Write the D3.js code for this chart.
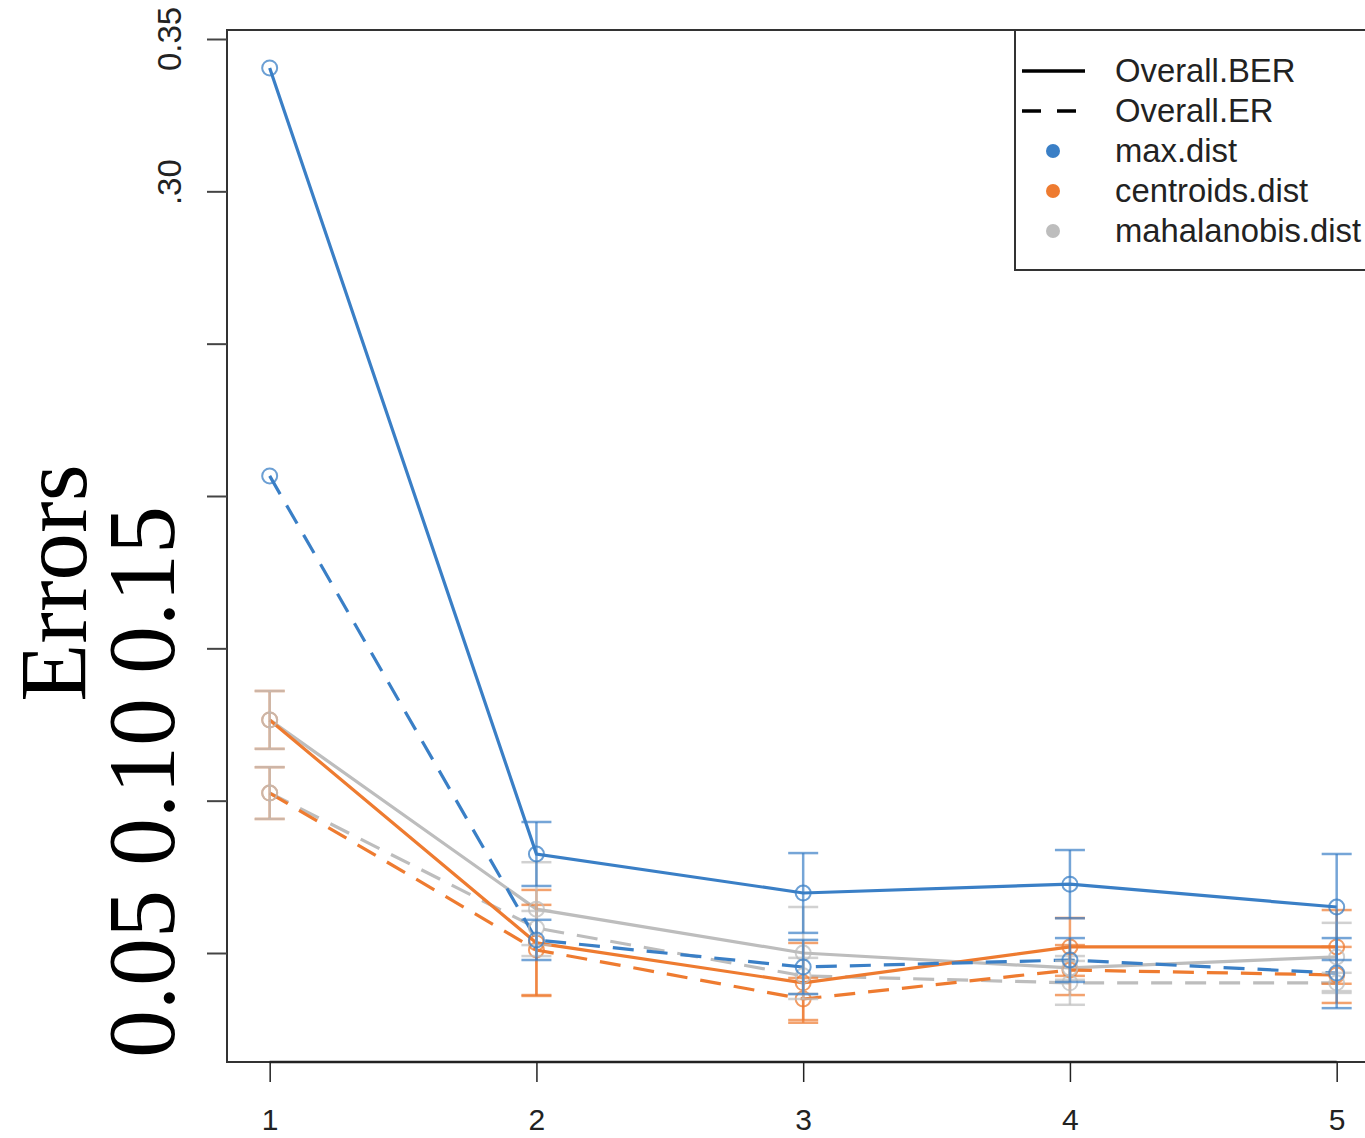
<!DOCTYPE html>
<html>
<head>
<meta charset="utf-8">
<script src="https://cdn.jsdelivr.net/npm/d3@7"></script>
<style>
  html, body { margin: 0; padding: 0; background: #ffffff; }
  svg { display: block; }
</style>
</head>
<body>
<svg id="chart" width="1365" height="1138"></svg>
<script>
// ---------------- data ----------------
const components = [1, 2, 3, 4, 5];
const yTickValues = [0.05, 0.10, 0.15, 0.20, 0.25, 0.30, 0.35];
const bigTickText = "0.05 0.10 0.15";
const yTitle = "Errors";

const maxBER     = [0.3405, 0.0825, 0.0697, 0.0726, 0.0651];
const maxBERsd   = [0.0000, 0.0105, 0.0131, 0.0112, 0.0174];
const maxER      = [0.2066, 0.0543, 0.0454, 0.0477, 0.0434];
const maxERsd    = [0.0000, 0.0066, 0.0089, 0.0072, 0.0115];
const centBER    = [0.1265, 0.0533, 0.0402, 0.0520, 0.0520];
const centBERsd  = [0.0095, 0.0174, 0.0131, 0.0095, 0.0121];
const centER     = [0.1025, 0.0510, 0.0349, 0.0444, 0.0428];
const centERsd   = [0.0085, 0.0148, 0.0069, 0.0082, 0.0092];
const mahaBER    = [0.1265, 0.0644, 0.0500, 0.0451, 0.0487];
const mahaBERsd  = [0.0095, 0.0154, 0.0151, 0.0039, 0.0112];
const mahaER     = [0.1025, 0.0582, 0.0425, 0.0402, 0.0402];
const mahaERsd   = [0.0085, 0.0056, 0.0059, 0.0072, 0.0033];

const distances = ["max.dist", "centroids.dist", "mahalanobis.dist"];
const measures = ["Overall.BER", "Overall.ER"];
const distColors = ["#3a7fc6", "#ee7b30", "#bdbdbd"];

const series = [
  {dist: 2, measure: 0, values: mahaBER, sd: mahaBERsd},
  {dist: 2, measure: 1, values: mahaER,  sd: mahaERsd},
  {dist: 1, measure: 0, values: centBER, sd: centBERsd},
  {dist: 1, measure: 1, values: centER,  sd: centERsd},
  {dist: 0, measure: 0, values: maxBER,  sd: maxBERsd},
  {dist: 0, measure: 1, values: maxER,   sd: maxERsd}
];
// order for error bars / points: orange, gray, blue
const markOrder = [2, 3, 0, 1, 4, 5];

// ---------------- layout ----------------
const svg = d3.select("#chart");
const frame = {left: 227, top: 30, bottom: 1062};
const x = d3.scaleLinear().domain([0.84, 5.16]).range([frame.left, frame.left + 4.32 * 266.75]);
const y = d3.scaleLinear().domain([0.05, 0.35]).range([953, 39]);
const frameRight = x(5.16);

svg.append("rect")
  .attr("x", frame.left).attr("y", frame.top)
  .attr("width", frameRight - frame.left).attr("height", frame.bottom - frame.top)
  .attr("fill", "none").attr("stroke", "#333").attr("stroke-width", 2);

// x axis
const xAxis = d3.axisBottom(x).tickValues(components).tickFormat(d3.format("d"))
  .tickSize(20).tickSizeOuter(0);
const gx = svg.append("g").attr("transform", `translate(0,${frame.bottom})`).call(xAxis);
gx.select(".domain").attr("d", `M${x(1)},0H${x(5)}`).attr("stroke", "#222").attr("stroke-width", 2.5);
gx.selectAll(".tick line").attr("stroke", "#222").attr("stroke-width", 1.5);
gx.selectAll(".tick text")
  .attr("y", 57).attr("dy", "0.35em")
  .attr("font-family", "Liberation Sans, Arial, sans-serif")
  .attr("font-size", 30).attr("fill", "#222");

// y axis ticks
const yAxis = d3.axisLeft(y).tickValues(yTickValues).tickFormat("").tickSize(20).tickSizeOuter(0);
const gy = svg.append("g").attr("transform", `translate(${frame.left},0)`).call(yAxis);
gy.select(".domain").remove();
gy.selectAll(".tick line").attr("stroke", "#444").attr("stroke-width", 2);

const smallFont = "Liberation Sans, Arial, sans-serif";
svg.append("text")
  .attr("transform", `translate(181,${y(0.35)}) rotate(-90)`)
  .attr("text-anchor", "middle")
  .attr("font-family", smallFont).attr("font-size", 33).attr("fill", "#222")
  .text(d3.format(".2f")(0.35));
const probe = svg.append("text").attr("font-family", smallFont).attr("font-size", 33)
  .text(d3.format(".2f")(0.30));
const fullW = probe.node().getComputedTextLength();
probe.remove();
svg.append("text")
  .attr("transform", `translate(181,${y(0.30) - fullW / 2}) rotate(-90)`)
  .attr("text-anchor", "end")
  .attr("font-family", smallFont).attr("font-size", 33).attr("fill", "#222")
  .text(d3.format(".2f")(0.30).slice(1));

// big serif overlay labels
const serif = "Liberation Serif, Times New Roman, serif";
svg.append("text")
  .attr("transform", `translate(174,1058) rotate(-90)`)
  .attr("text-anchor", "start")
  .attr("font-family", serif).attr("font-size", 96).attr("fill", "#000")
  .text(bigTickText);
svg.append("text")
  .attr("transform", `translate(86,583) rotate(-90)`)
  .attr("text-anchor", "middle")
  .attr("font-family", serif).attr("font-size", 95).attr("fill", "#000")
  .text(yTitle);

// ---------------- marks ----------------
const plot = svg.append("g");
const line = d3.line().x((d, i) => x(components[i])).y(d => y(d));
const capHalf = 15;

series.forEach(s => {
  plot.append("path")
    .attr("d", line(s.values))
    .attr("fill", "none").attr("stroke", distColors[s.dist]).attr("stroke-width", 3.2)
    .attr("stroke-dasharray", s.measure === 1 ? "21,13" : null);
});

markOrder.forEach(k => {
  const s = series[k];
  const col = distColors[s.dist];
  const g = plot.append("g");
  components.forEach((c, i) => {
    const sd = s.sd[i];
    if (sd <= 0) return;
    const v = s.values[i];
    const eb = g.append("g").attr("stroke", col).attr("stroke-width", 2.5).attr("stroke-opacity", 0.7);
    eb.append("line").attr("x1", x(c)).attr("x2", x(c)).attr("y1", y(v - sd)).attr("y2", y(v + sd));
    eb.append("line").attr("x1", x(c) - capHalf).attr("x2", x(c) + capHalf).attr("y1", y(v + sd)).attr("y2", y(v + sd));
    eb.append("line").attr("x1", x(c) - capHalf).attr("x2", x(c) + capHalf).attr("y1", y(v - sd)).attr("y2", y(v - sd));
  });
  g.selectAll("circle").data(s.values).join("circle")
    .attr("cx", (d, i) => x(components[i])).attr("cy", d => y(d))
    .attr("r", 7.5).attr("fill", "none")
    .attr("stroke", col).attr("stroke-width", 2).attr("stroke-opacity", 0.75);
});

// ---------------- legend ----------------
const lg = svg.append("g");
const lgLeft = 1015, lgTop = 30, lgBottom = 270;
lg.append("path")
  .attr("d", `M1400,${lgTop}H${lgLeft}V${lgBottom}H1400`)
  .attr("fill", "#fff").attr("stroke", "#333").attr("stroke-width", 2);
const rowY = i => 71 + 40 * i;
const legendItems = measures.map((m, i) => ({label: m, type: "line", dash: i === 1}))
  .concat(distances.map((d, i) => ({label: d, type: "dot", color: distColors[i]})));
legendItems.forEach((it, i) => {
  const yy = rowY(i);
  if (it.type === "line") {
    lg.append("line").attr("x1", 1022).attr("x2", it.dash ? 1076 : 1085)
      .attr("y1", yy).attr("y2", yy)
      .attr("stroke", "#000").attr("stroke-width", 3.5)
      .attr("stroke-dasharray", it.dash ? "19,16" : null);
  } else {
    lg.append("circle").attr("cx", 1053).attr("cy", yy).attr("r", 7).attr("fill", it.color);
  }
  lg.append("text").attr("x", 1115).attr("y", yy).attr("dy", "0.35em")
    .attr("font-family", smallFont).attr("font-size", 32.8).attr("fill", "#222")
    .text(it.label);
});
</script>
</body>
</html>
